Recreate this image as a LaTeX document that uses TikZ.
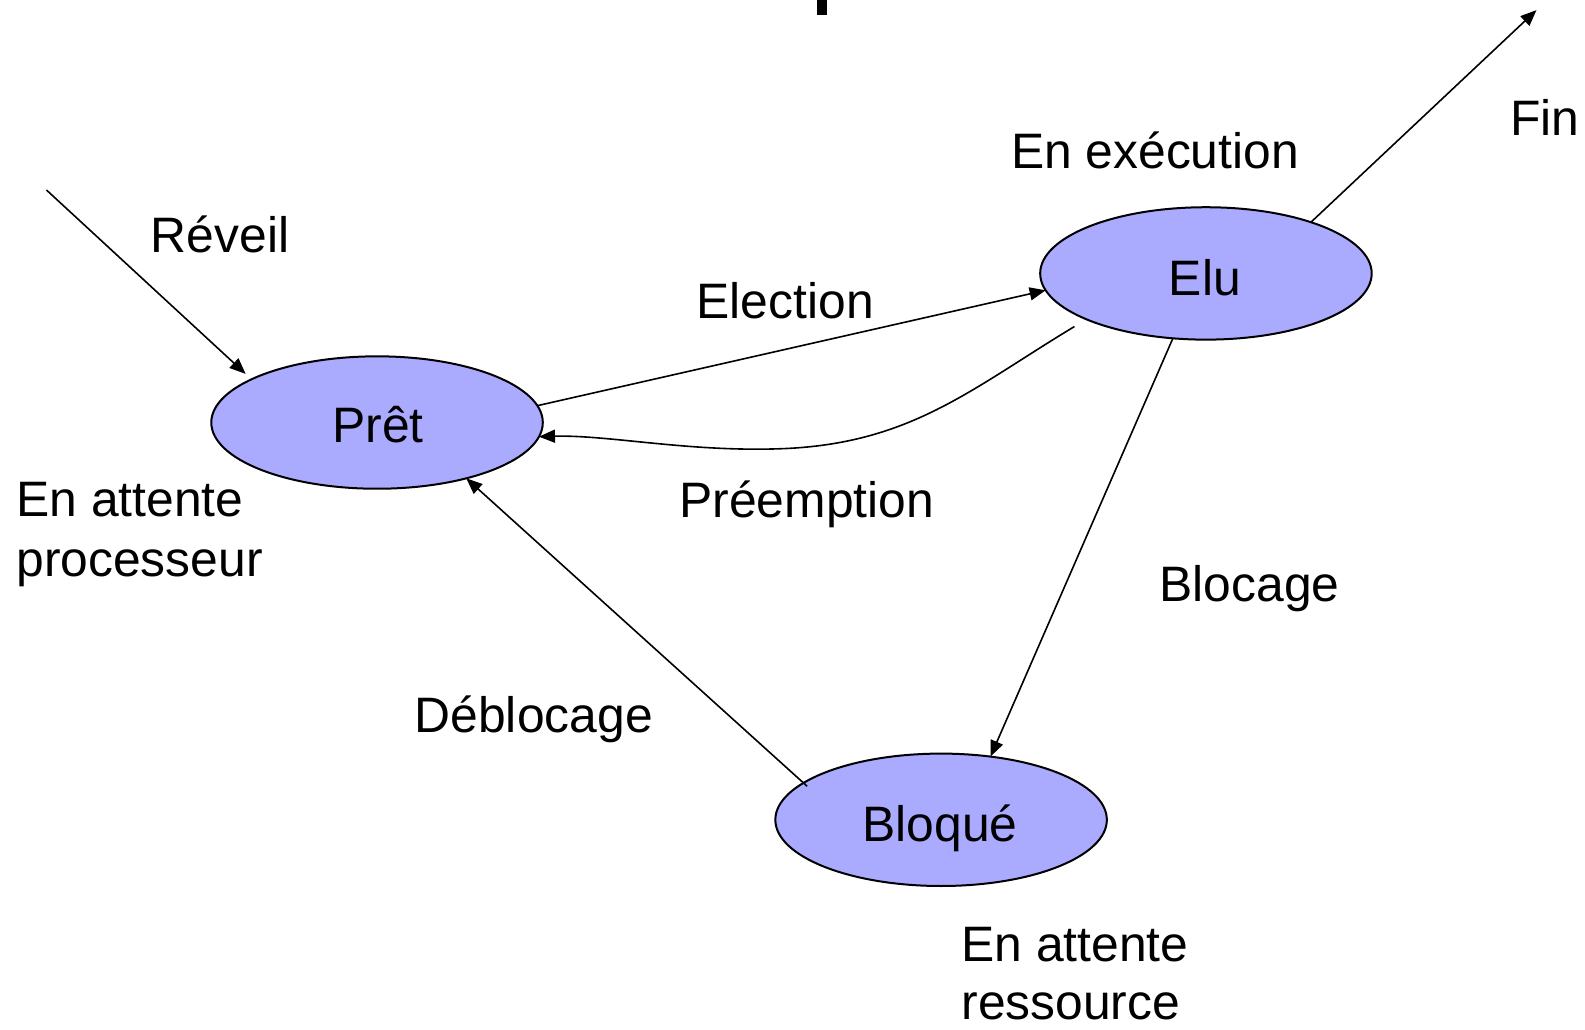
\documentclass[tikz,border=0pt]{standalone}
\usepackage{fontspec}
\setmainfont{Liberation Sans}
\usetikzlibrary{shapes.geometric,arrows.meta}
\definecolor{statefill}{RGB}{170,170,255}
\begin{document}
\begin{tikzpicture}[x=1.0108pt,y=-1.0108pt,
  font=\fontsize{49.8pt}{59.7pt}\selectfont,
  state/.style={ellipse,draw=black,line width=2pt,fill=statefill,
    minimum width=331.5pt,minimum height=132.4pt,inner sep=0pt,outer sep=0pt},
  lbl/.style={inner sep=0pt,anchor=base west},
  arr/.style={line width=1.6pt,-{Triangle[length=16pt,width=13pt]}}]
  \useasboundingbox (0,0) rectangle (1568,1018);
  % cut-off stroke at the top edge
  \fill[black] (808,0) rectangle (818.5,14.8);

  % states
  \node[state] (pret)   at (373,418)   {};
  \node[state] (elu)    at (1193,270.5) {};
  \node[state] (bloque) at (931,811)   {};
  \node[inner sep=0pt,anchor=base] (tpret)   at (374,438)  {Prêt};
  \node[inner sep=0pt,anchor=base] (telu)    at (1192,292) {Elu};
  \node[inner sep=0pt,anchor=base] (tbloque) at (930,832)  {Bloqué};

  % free ends
  \coordinate (start) at (46,188);
  \coordinate (fin)   at (1520,10);

  % transitions
  \draw[arr,shorten >=8pt] (start) -- (pret.161);
  \draw[arr] (pret.6) -- (elu.186);
  \draw[arr,shorten <=14pt] (elu.201) .. controls (960,385) and (900,440) .. (770,444)
                       .. controls (680,447) and (600,430) .. (pret.355);
  \draw[arr] (elu.243.6) -- (bloque.52.3);
  \draw[arr,shorten <=-5pt] (bloque.165.6) -- (pret.328.7);
  \draw[arr] (elu.26.8) -- (fin);

  % labels
  \node[lbl] (lfin)   at (1494,134)   {Fin};
  \node[lbl] (lexec)  at (1000,167)   {En exécution};
  \node[lbl] (lrev)   at (149,250)    {Réveil};
  \node[lbl] (lelec)  at (689,315)    {Election};
  \node[lbl] (latt1)  at (16,511)     {En attente};
  \node[lbl] (latt2)  at (16,570)     {processeur};
  \node[lbl] (lpre)   at (672,512)    {Préemption};
  \node[lbl] (lblo)   at (1147,595)   {Blocage};
  \node[lbl] (ldeb)   at (410,725)    {Déblocage};
  \node[lbl] (lres1)  at (951,951)    {En attente};
  \node[lbl] (lres2)  at (951,1009)   {ressource};
\end{tikzpicture}
\end{document}
